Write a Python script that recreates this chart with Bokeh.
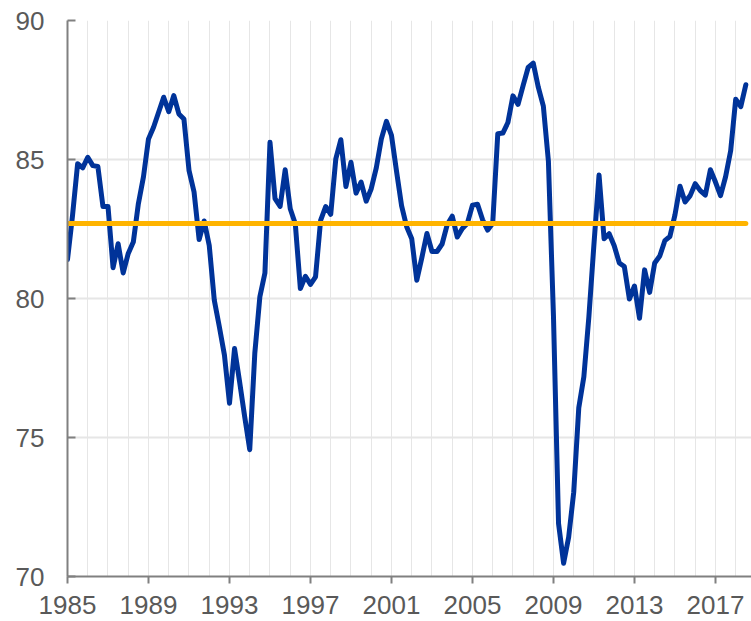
from bokeh.plotting import figure
from bokeh.models import FixedTicker, ColumnDataSource
from bokeh.embed import file_html
from bokeh.resources import INLINE

# Quarterly series, 1985Q1 .. 2018Q3
values = [
    81.4, 83.0, 84.85, 84.7, 85.08, 84.78, 84.75, 83.31, 83.31, 81.11,
    81.97, 80.92, 81.62, 82.03, 83.41, 84.37, 85.74, 86.16, 86.70, 87.24,
    86.72, 87.30, 86.64, 86.46, 84.61, 83.83, 82.12, 82.79, 81.91, 79.94,
    78.98, 77.97, 76.23, 78.2, 77.0, 75.75, 74.56, 78.03, 80.06, 80.92,
    85.62, 83.59, 83.31, 84.63, 83.23, 82.69, 80.36, 80.80, 80.51, 80.78,
    82.81, 83.31, 83.03, 85.02, 85.71, 84.03, 84.90, 83.79, 84.19, 83.5,
    83.95, 84.70, 85.74, 86.37, 85.87, 84.57, 83.33, 82.58, 82.15, 80.66,
    81.47, 82.34, 81.69, 81.69, 81.96, 82.65, 82.96, 82.21, 82.52, 82.71,
    83.36, 83.39, 82.83, 82.46, 82.71, 85.93, 85.95, 86.33, 87.29, 86.98,
    87.66, 88.31, 88.47, 87.60, 86.92, 84.94, 79.36, 71.91, 70.48, 71.41,
    73.03, 76.07, 77.18, 79.35, 81.96, 84.44, 82.15, 82.33, 81.90, 81.28,
    81.15, 79.98, 80.45, 79.29, 81.03, 80.22, 81.28, 81.53, 82.08, 82.23,
    83.01, 84.04, 83.47, 83.70, 84.13, 83.88, 83.72, 84.63, 84.19, 83.70,
    84.38, 85.31, 87.17, 86.90, 87.69,
]
start_year = 1985
dates = [start_year + q / 4 for q in range(len(values))]

mean_value = 82.7
mean_x = [dates[0], dates[-1]]
mean_y = [mean_value, mean_value]

x_tick_years = [1985, 1989, 1993, 1997, 2001, 2005, 2009, 2013, 2017]
grid_years = list(range(1985, 2019))
y_ticks = [70, 75, 80, 85, 90]

p = figure(width=751, height=621, output_backend="svg", toolbar_location=None,
           x_range=(1985, 2018.78), y_range=(70, 90),
           min_border_left=67, min_border_right=0, min_border_top=20,
           min_border_bottom=45)
p.outline_line_color = None
p.background_fill_color = "white"
p.border_fill_color = "white"

src = ColumnDataSource(dict(x=dates, y=values))
p.line("x", "y", source=src, line_color="#003399", line_width=5,
       line_join="round", line_cap="round")
p.line(mean_x, mean_y, line_color="#FFB400", line_width=5, line_cap="round")

label_color = "#595959"
axis_color = "#808080"

p.xaxis.ticker = FixedTicker(ticks=x_tick_years)
p.xaxis.major_label_text_font = "Liberation Sans"
p.xaxis.major_label_text_font_size = "26px"
p.xaxis.major_label_text_color = label_color
p.xaxis.axis_line_color = axis_color
p.xaxis.axis_line_width = 2
p.xaxis.major_tick_line_color = axis_color
p.xaxis.major_tick_line_width = 2
p.xaxis.major_tick_in = 0
p.xaxis.major_tick_out = 7
p.xaxis.minor_tick_line_color = None
p.xaxis.major_label_standoff = 12

p.yaxis.ticker = FixedTicker(ticks=y_ticks)
p.yaxis.major_label_text_font = "Liberation Sans"
p.yaxis.major_label_text_font_size = "26px"
p.yaxis.major_label_text_color = label_color
p.yaxis.axis_line_color = axis_color
p.yaxis.axis_line_width = 2
p.yaxis.major_tick_line_color = axis_color
p.yaxis.major_tick_line_width = 2
p.yaxis.major_tick_in = 8
p.yaxis.major_tick_out = 0
p.yaxis.minor_tick_line_color = None
p.yaxis.major_label_standoff = 23

p.xgrid.ticker = FixedTicker(ticks=grid_years)
p.xgrid.grid_line_color = "#e6e6e6"
p.xgrid.grid_line_width = 1
p.ygrid.ticker = FixedTicker(ticks=[75, 80, 85, 90])
p.ygrid.grid_line_color = "#e6e6e6"
p.ygrid.grid_line_width = 2

open("out.html", "w").write(file_html(p, INLINE))
